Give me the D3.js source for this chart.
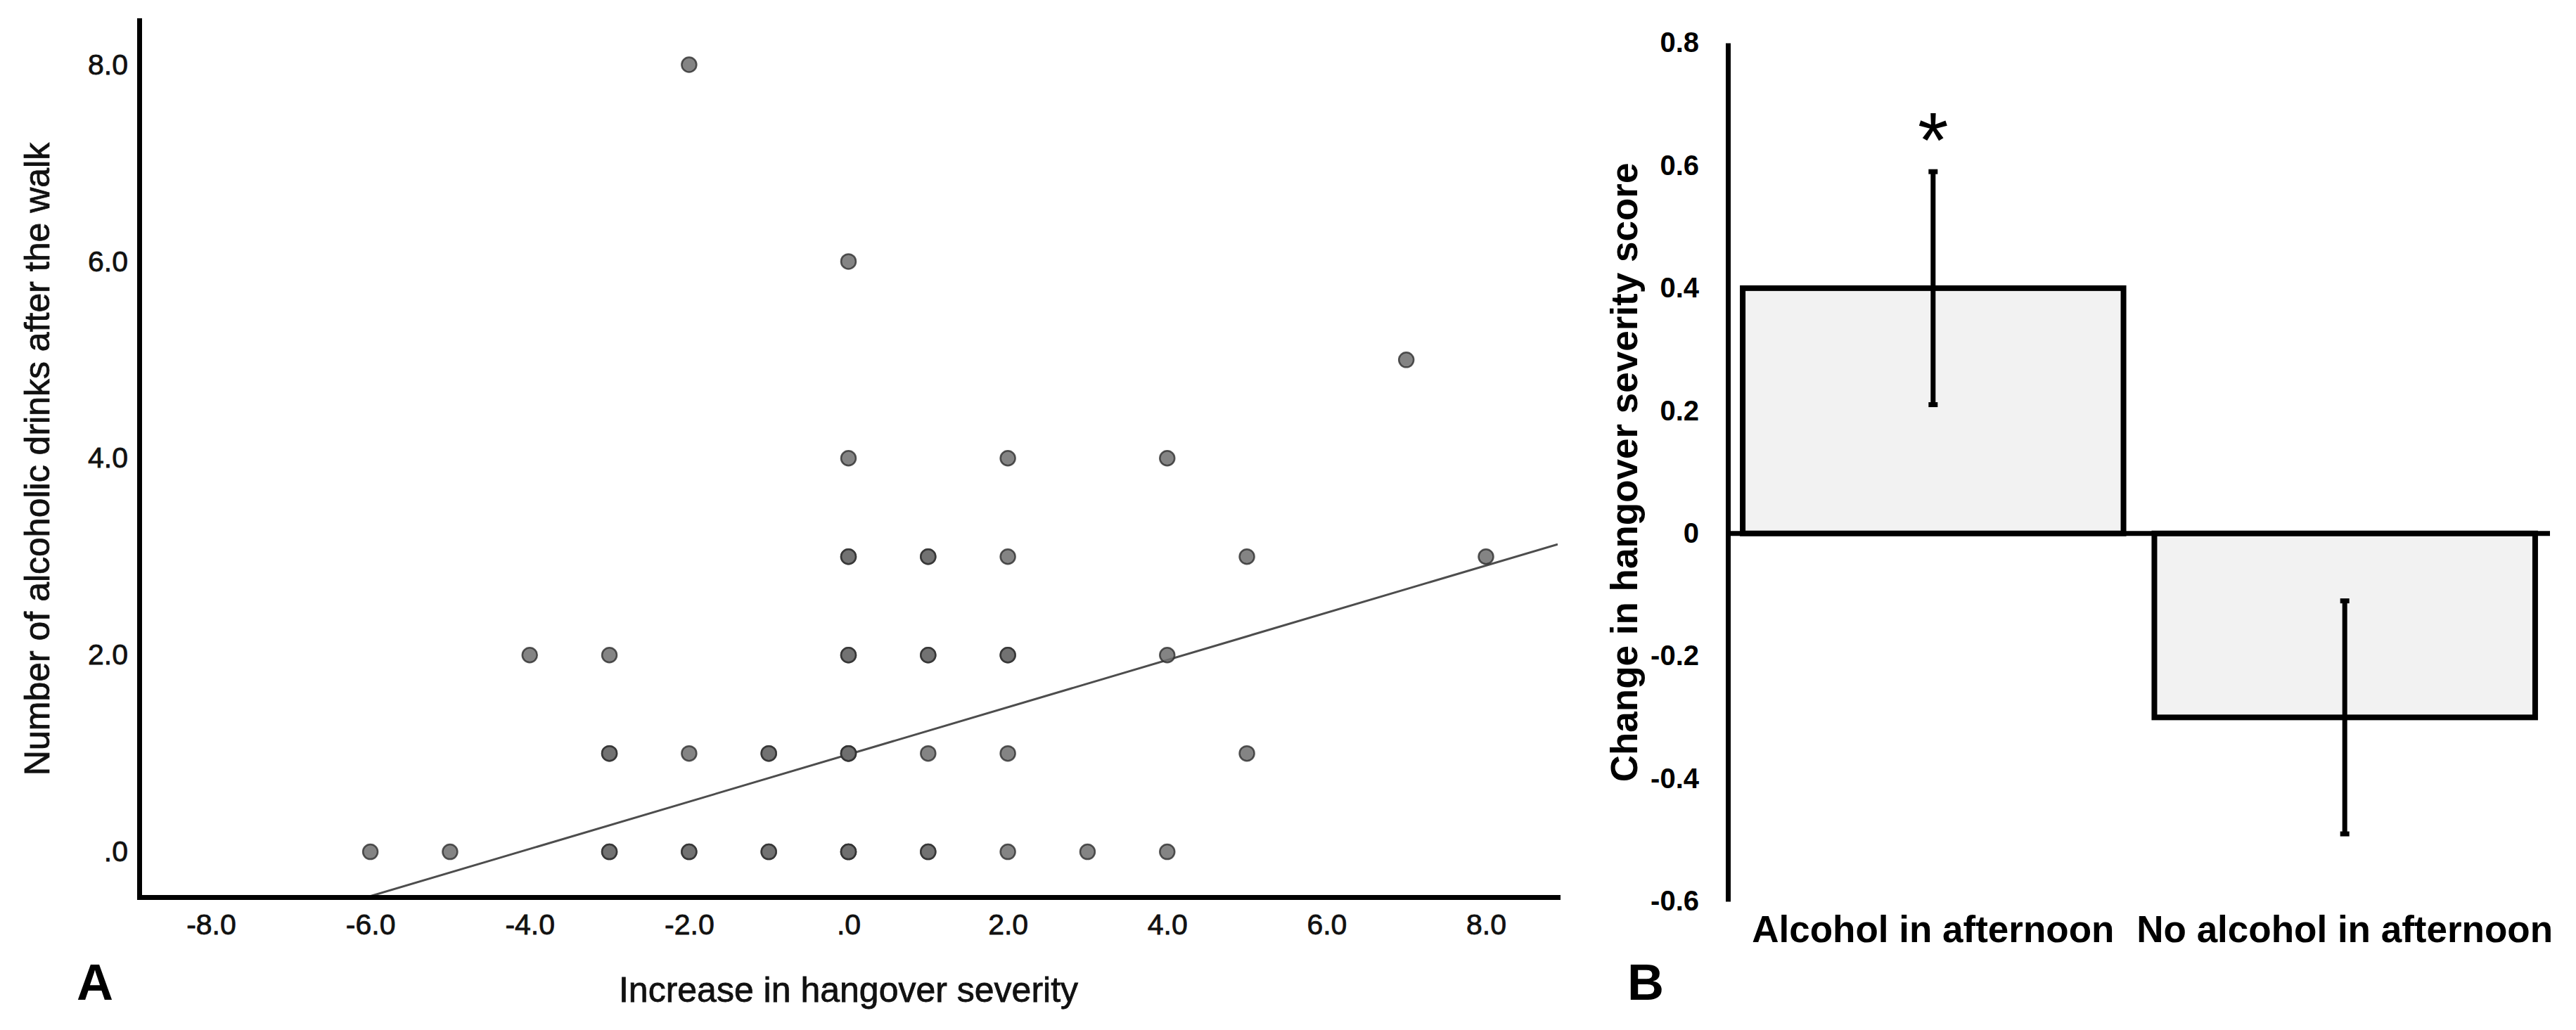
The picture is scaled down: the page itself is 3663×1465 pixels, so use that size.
<!DOCTYPE html>
<html>
<head>
<meta charset="utf-8">
<script src="https://cdn.jsdelivr.net/npm/d3@7"></script>
<style>
  html, body { margin: 0; padding: 0; background: #fff; }
  svg { display: block; font-family: 'Liberation Sans', Arial, sans-serif; }
  .soft { stroke: #111; stroke-width: 0.8px; }
</style>
</head>
<body>
<svg id="chart" width="3663" height="1465"></svg>
<script>
// A：散点（重复出现的点画两次，叠加后颜色更深）
const severityIncrease = [
  -2,
  0,
  7,
  0, 2, 4,
  0, 0, 1, 1, 2, 5, 8,
  -4, -3, 0, 0, 1, 1, 2, 2, 4,
  -3, -3, -2, -1, -1, 0, 0, 0, 1, 2, 5,
  -6, -5, -3, -3, -2, -2, -1, -1, 0, 0, 0, 1, 1, 2, 3, 4
]
const drinksAfterWalk = [
  8,
  6,
  5,
  4, 4, 4,
  3, 3, 3, 3, 3, 3, 3,
  2, 2, 2, 2, 2, 2, 2, 2, 2,
  1, 1, 1, 1, 1, 1, 1, 1, 1, 1, 1,
  0, 0, 0, 0, 0, 0, 0, 0, 0, 0, 0, 0, 0, 0, 0, 0
]
// 回归线
const fitIntercept = 0.99
const fitSlope = 0.24
const xTicksA = [-8, -6, -4, -2, 0, 2, 4, 6, 8]
const yTicksA = [0, 2, 4, 6, 8]

// B：柱状图
const groups = ['Alcohol in afternoon', 'No alcohol in afternoon']
const meanChange = [0.4, -0.3]
const errChange = [0.19, 0.19]
const sigMarks = ['*', '']
const yTicksB = [-0.6, -0.4, -0.2, 0, 0.2, 0.4, 0.6, 0.8]

const svg = d3.select('#chart')
svg.append('rect').attr('width', 3663).attr('height', 1465).attr('fill', '#fff')

// ---------- 面板 A ----------
const xA = d3.scaleLinear().domain([-8.9, 8.9]).range([198, 2215])
const yA = d3.scaleLinear().domain([-0.46, 8.45]).range([1276, 29])
const fmtA = (v) => (v === 0 ? '.0' : v.toFixed(1))

const gA = svg.append('g')
gA.append('clipPath')
  .attr('id', 'clipA')
  .append('rect')
  .attr('x', xA.range()[0])
  .attr('y', yA.range()[1])
  .attr('width', xA.range()[1] - xA.range()[0])
  .attr('height', yA.range()[0] - yA.range()[1])

const xd = xA.domain()
gA.append('line')
  .attr('clip-path', 'url(#clipA)')
  .attr('x1', xA(xd[0]))
  .attr('y1', yA(fitIntercept + fitSlope * xd[0]))
  .attr('x2', xA(xd[1]))
  .attr('y2', yA(fitIntercept + fitSlope * xd[1]))
  .attr('stroke', '#4d4d4d')
  .attr('stroke-width', 3)

gA.append('g')
  .selectAll('circle')
  .data(severityIncrease)
  .join('circle')
  .attr('cx', (d) => xA(d))
  .attr('cy', (d, i) => yA(drinksAfterWalk[i]))
  .attr('r', 10.5)
  .attr('fill', '#6f6f6f')
  .attr('fill-opacity', 0.85)
  .attr('stroke', '#2e2e2e')
  .attr('stroke-opacity', 0.8)
  .attr('stroke-width', 2.5)

// 坐标轴
const axA = gA.append('g')
  .attr('transform', `translate(0,${yA.range()[0]})`)
  .call(d3.axisBottom(xA).tickValues(xTicksA).tickFormat(fmtA).tickSize(0).tickPadding(24).tickSizeOuter(0))
const ayA = gA.append('g')
  .attr('transform', `translate(${xA.range()[0]},0)`)
  .call(d3.axisLeft(yA).tickValues(yTicksA).tickFormat(fmtA).tickSize(0).tickPadding(16).tickSizeOuter(0))
;[axA, ayA].forEach((ax) => {
  ax.attr('font-size', null).attr('font-family', null)
  ax.select('.domain').attr('stroke', '#000').attr('stroke-width', 7).attr('stroke-linecap', 'square')
  ax.selectAll('text').attr('font-size', 41).attr('fill', '#111').attr('class', 'soft')
})

gA.append('text')
  .attr('class', 'soft')
  .attr('x', (xA.range()[0] + xA.range()[1]) / 2)
  .attr('y', 1425)
  .attr('text-anchor', 'middle')
  .attr('font-size', 50)
  .attr('fill', '#111')
  .text('Increase in hangover severity')

gA.append('text')
  .attr('class', 'soft')
  .attr('transform', 'translate(70,653) rotate(-90)')
  .attr('text-anchor', 'middle')
  .attr('font-size', 50)
  .attr('fill', '#111')
  .text('Number of alcoholic drinks after the walk')

gA.append('text')
  .attr('x', 135)
  .attr('y', 1422)
  .attr('text-anchor', 'middle')
  .attr('font-size', 72)
  .attr('font-weight', 'bold')
  .text('A')

// ---------- 面板 B ----------
const xB = d3.scaleBand().domain(groups).range([2457, 3626]).paddingInner(0.075).paddingOuter(0.036)
const yB = d3.scaleLinear().domain([-0.6, 0.8]).range([1282, 61])
const fmtB = (v) => (v === 0 ? '0' : v.toFixed(1))

const gB = svg.append('g')

gB.append('g')
  .selectAll('rect')
  .data(groups)
  .join('rect')
  .attr('x', (d) => xB(d))
  .attr('width', xB.bandwidth())
  .attr('y', (d, i) => yB(Math.max(0, meanChange[i])))
  .attr('height', (d, i) => Math.abs(yB(meanChange[i]) - yB(0)))
  .attr('fill', '#f2f2f2')
  .attr('stroke', '#000')
  .attr('stroke-width', 8)

// 零线
gB.append('line')
  .attr('x1', xB.range()[0])
  .attr('x2', xB.range()[1])
  .attr('y1', yB(0))
  .attr('y2', yB(0))
  .attr('stroke', '#000')
  .attr('stroke-width', 7)

// 误差线
const eb = gB.append('g')
  .selectAll('g')
  .data(groups)
  .join('g')
  .attr('transform', (d) => `translate(${xB(d) + xB.bandwidth() / 2},0)`)
eb.append('line')
  .attr('y1', (d, i) => yB(meanChange[i] + errChange[i]))
  .attr('y2', (d, i) => yB(meanChange[i] - errChange[i]))
  .attr('stroke', '#000')
  .attr('stroke-width', 7)
eb.selectAll('.cap')
  .data((d, i) => [meanChange[i] + errChange[i], meanChange[i] - errChange[i]])
  .join('line')
  .attr('class', 'cap')
  .attr('x1', -6.5)
  .attr('x2', 6.5)
  .attr('y1', (v) => yB(v))
  .attr('y2', (v) => yB(v))
  .attr('stroke', '#000')
  .attr('stroke-width', 7)
eb.append('text')
  .attr('y', (d, i) => yB(meanChange[i] + errChange[i]) - 6)
  .attr('text-anchor', 'middle')
  .attr('font-size', 112)
  .text((d, i) => sigMarks[i])

const ayB = gB.append('g')
  .attr('transform', `translate(${xB.range()[0]},0)`)
  .call(d3.axisLeft(yB).tickValues(yTicksB).tickFormat(fmtB).tickSize(0).tickPadding(41).tickSizeOuter(0))
ayB.attr('font-size', null).attr('font-family', null)
ayB.select('.domain').attr('stroke', '#000').attr('stroke-width', 7)
ayB.selectAll('text').attr('font-size', 40).attr('font-weight', 'bold').attr('fill', '#000')

gB.append('g')
  .selectAll('text')
  .data(groups)
  .join('text')
  .attr('x', (d) => xB(d) + xB.bandwidth() / 2)
  .attr('y', 1340)
  .attr('text-anchor', 'middle')
  .attr('font-size', 53)
  .attr('font-weight', 'bold')
  .text((d) => d)

gB.append('text')
  .attr('transform', 'translate(2328,672) rotate(-90)')
  .attr('text-anchor', 'middle')
  .attr('font-size', 53)
  .attr('font-weight', 'bold')
  .text('Change in hangover severity score')

gB.append('text')
  .attr('x', 2340)
  .attr('y', 1422)
  .attr('text-anchor', 'middle')
  .attr('font-size', 72)
  .attr('font-weight', 'bold')
  .text('B')
</script>
</body>
</html>
